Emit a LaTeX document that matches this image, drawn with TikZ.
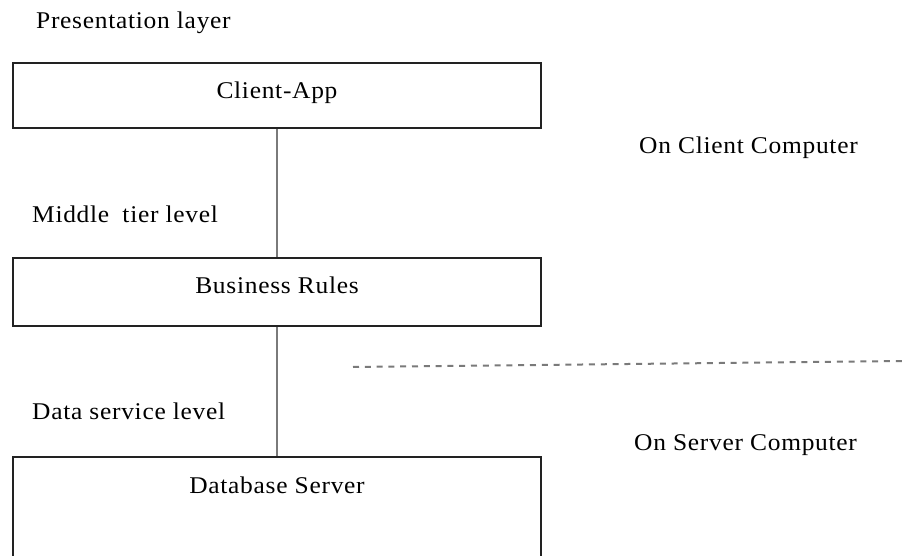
\documentclass[tikz,border=0pt]{standalone}
\usepackage{fontspec}
\setmainfont{Liberation Serif}[LetterSpace=3, FakeStretch=1.06]
\definecolor{boxline}{HTML}{222222}
\definecolor{linkgray}{HTML}{7A7A7A}
\begin{document}
\begin{tikzpicture}[x=1pt,y=-1pt,
  every node/.style={font=\fontsize{24}{28}\selectfont, text=black},
  tier/.style={draw=boxline, line width=1.8pt, minimum width=528pt, inner sep=0pt},
  caption/.style={anchor=base west, inner sep=0pt},
  link/.style={draw=linkgray, line width=2pt},
  split/.style={draw=linkgray, line width=2pt, dash pattern=on 6pt off 5.8pt}]
  % page
  \fill[white] (0,0) rectangle (903,556);
  \useasboundingbox (0,0) rectangle (903,556);

  % tier boxes
  \node[tier, minimum height=65pt, text height=17pt, text depth=10pt] (client) at (277,95.5) {Client-App};
  \node[tier, minimum height=68pt, text height=17pt, text depth=13pt] (rules) at (277,292) {Business Rules};
  \node[tier, minimum height=124pt] (db) at (277,519) {};
  \node[anchor=base, inner sep=0pt] (dbtext) at (277,493) {Database Server};

  % level captions
  \node[caption] (pres) at (36,29) {Presentation layer};
  \node[caption] (mid) at (32,223) {Middle\hspace{0.55em}tier level};
  \node[caption] (data) at (32,419) {Data service level};
  \node[caption] (oncl) at (639,154) {On Client Computer};
  \node[caption] (onsv) at (634,450) {On Server Computer};

  % connectors between tiers
  \draw[link] (client.south) -- (rules.north);
  \draw[link] (rules.south) -- (db.north);

  % client / server boundary
  \coordinate (splitA) at (353,367);
  \coordinate (splitB) at (903,361);
  \draw[split] (splitA) -- (splitB);
\end{tikzpicture}
\end{document}
